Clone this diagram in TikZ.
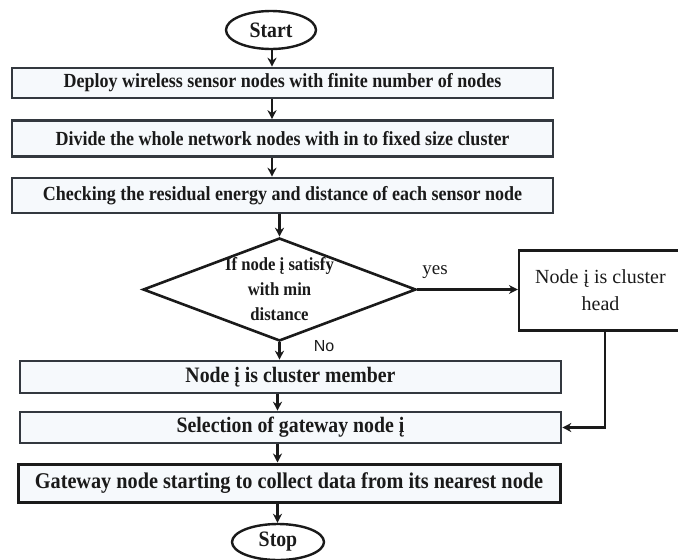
\documentclass[tikz,border=0pt]{standalone}
\usepackage{fontspec}
\setmainfont{Liberation Serif}
\newfontfamily\condserif[FakeStretch=0.9]{Liberation Serif}
\newfontfamily\labelsans{Liberation Sans}
\usetikzlibrary{shapes.geometric,arrows.meta}
\definecolor{boxline}{HTML}{33383F}
\definecolor{boxfill}{HTML}{F6F9FC}
\definecolor{ink}{HTML}{1A1A1A}
\begin{document}
\begin{tikzpicture}[x=1pt,y=-1pt,
  every node/.style={text=ink},
  procbox/.style={draw=boxline, line width=2.6pt, fill=boxfill, minimum width=541pt,
    inner sep=0pt, font=\condserif\bfseries\fontsize{20}{24}\selectfont},
  lowbox/.style={procbox, font=\condserif\bfseries\fontsize{22}{26}\selectfont},
  termnode/.style={draw=ink, line width=2.4pt, fill=white, ellipse, inner sep=0pt,
    font=\condserif\bfseries\fontsize{22}{26}\selectfont},
  decnode/.style={draw=ink, line width=2.6pt, fill=white, diamond, aspect=2.65,
    inner sep=-16pt, minimum width=273pt, minimum height=103pt, align=center,
    font=\condserif\bfseries\fontsize{18.5}{25}\selectfont},
  headbox/.style={draw=ink, line width=2.2pt, fill=white, minimum width=163pt,
    minimum height=80pt, inner sep=0pt, align=center,
    font=\fontsize{20}{27}\selectfont},
  arr/.style={draw=ink, line width=2.2pt, -{Stealth[length=9pt,width=9pt]}}
]
\path[use as bounding box, clip] (0,0) rectangle (678,560);
\fill[white] (0,0) rectangle (678,560);

\node[termnode, minimum width=90pt, minimum height=38pt] (start) at (271,30) {Start};
\node[procbox, minimum height=30pt] (b1) at (282.5,83) {Deploy wireless sensor nodes with finite number of nodes};
\node[procbox, minimum height=36pt] (b2) at (282.5,138.5) {Divide the whole network nodes with in to fixed size cluster};
\node[procbox, minimum height=35pt] (b3) at (282.5,195.5) {Checking the residual energy and distance of each sensor node};
\node[decnode] (dec) at (279.5,289.5) {If node į satisfy\\with min\\distance};
\node[headbox] (head) at (600.5,290.5) {Node į is cluster\\head};
\node[lowbox, minimum height=32pt] (b4) at (290.5,377) {Node į is cluster member};
\node[lowbox, minimum height=31pt] (b5) at (290.5,427.5) {Selection of gateway node į};
\node[lowbox, draw=ink, line width=3pt, minimum width=542pt, minimum height=38pt,
  font=\condserif\bfseries\fontsize{22.5}{26}\selectfont] (b6) at (289,483) {Gateway node starting to collect data from its nearest node};
\node[termnode, minimum width=92pt, minimum height=36pt] (stop) at (278,542) {Stop};

\node[font=\fontsize{19}{22}\selectfont] (yes) at (435,272) {yes};
\node[font=\labelsans\fontsize{16}{19}\selectfont] (no) at (324,346) {No};

\coordinate (upx) at (272,0);
\coordinate (lowx) at (277.5,0);

\draw[arr] (start.south -| upx) -- (b1.north -| upx);
\draw[arr] (b1.south -| upx) -- (b2.north -| upx);
\draw[arr] (b2.south -| upx) -- (b3.north -| upx);
\draw[arr] (b3.south -| dec.north) -- (dec.north);
\draw[arr] (dec.south) -- (dec.south |- b4.north);
\draw[arr] (b4.south -| lowx) -- (b5.north -| lowx);
\draw[arr] (b5.south -| lowx) -- (b6.north -| lowx);
\draw[arr] (b6.south -| lowx) -- (stop.north -| lowx);
\draw[arr] (dec.east) -- (dec.east -| head.west);
\draw[arr] ([xshift=4.5pt]head.south) |- (b5.east);
\end{tikzpicture}
\end{document}
